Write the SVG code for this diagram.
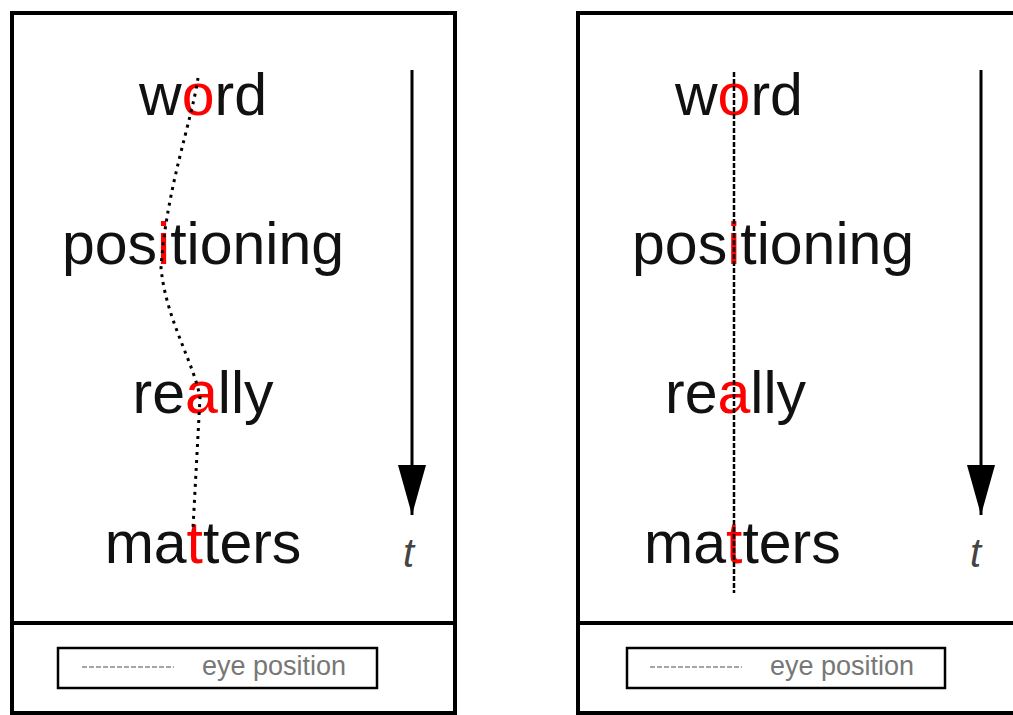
<svg xmlns="http://www.w3.org/2000/svg" width="1013" height="715" viewBox="0 0 1013 715">
  <style>
    .frame { fill: #ffffff; stroke: #000; stroke-width: 4; }
    .divider { stroke: #000; stroke-width: 4; }
    .legend-box { fill: #fff; stroke: #000; stroke-width: 2.5; }
    .legend-line { stroke: #888; stroke-width: 1.5; stroke-dasharray: 5 2; }
    .legend-text { font-family: "Liberation Sans", Arial, sans-serif; font-size: 27px; fill: #777; }
    .word { font-family: "Liberation Sans", Arial, sans-serif; font-size: 59px; fill: #111; }
    .hl { fill: #ff0000; }
    .tlabel { font-family: "Liberation Sans", Arial, sans-serif; font-size: 40px; font-style: italic; fill: #444; }
    .time { stroke: #000; stroke-width: 3; fill: none; }
    .eye-dotted { fill: none; stroke: #000; stroke-width: 3; stroke-dasharray: 3 5; }
    .eye-dashed { fill: none; stroke: #000; stroke-width: 2.5; stroke-dasharray: 5 2; }
  </style>
  <defs>
    <marker id="arrow" viewBox="0 0 50 28" refX="50" refY="14" markerWidth="50" markerHeight="28" markerUnits="userSpaceOnUse" orient="auto">
      <path d="M0,0 L50,14 L0,28 Z" fill="#000"/>
    </marker>
  </defs>
  <rect width="1013" height="715" fill="#fff"/>

  <!-- Left panel -->
  <g id="panel-left">
    <rect class="frame" x="12" y="13" width="443" height="700"/>
    <line class="divider" x1="12" y1="623" x2="455" y2="623"/>
  </g>
  <g id="legend-left">
    <rect class="legend-box" x="58" y="648" width="319" height="40"/>
    <line class="legend-line" x1="82" y1="667" x2="174" y2="667"/>
    <text class="legend-text" x="202" y="675">eye position</text>
  </g>
  <g id="words-left">
    <text id="w1-left" class="word" x="203" y="115" text-anchor="middle">w<tspan class="hl">o</tspan>rd</text>
    <text id="w2-left" class="word" x="203" y="264" text-anchor="middle">pos<tspan class="hl">i</tspan>tioning</text>
    <text id="w3-left" class="word" x="203" y="413" text-anchor="middle">re<tspan class="hl">a</tspan>lly</text>
    <text id="w4-left" class="word" x="203" y="563" text-anchor="middle">ma<tspan class="hl">t</tspan>ters</text>
    <text id="t-left" class="tlabel" x="403" y="567">t</text>
  </g>

  <!-- Right panel -->
  <g id="panel-right">
    <rect class="frame" x="578" y="13" width="443" height="700"/>
    <line class="divider" x1="578" y1="623" x2="1021" y2="623"/>
  </g>
  <g id="legend-right">
    <rect class="legend-box" x="627" y="648" width="318" height="40"/>
    <line class="legend-line" x1="650" y1="667" x2="742" y2="667"/>
    <text class="legend-text" x="770" y="675">eye position</text>
  </g>
  <g id="words-right">
    <text id="w1-right" class="word" x="675" y="115">w<tspan class="hl">o</tspan>rd</text>
    <text id="w2-right" class="word" x="632" y="264">pos<tspan class="hl">i</tspan>tioning</text>
    <text id="w3-right" class="word" x="665" y="413">re<tspan class="hl">a</tspan>lly</text>
    <text id="w4-right" class="word" x="644" y="563">ma<tspan class="hl">t</tspan>ters</text>
    <text id="t-right" class="tlabel" x="970" y="567">t</text>
  </g>

  <!-- Connectors -->
  <g id="connectors">
    <path class="eye-dotted" d="M198,78 C192,120 166,190 161,268 C166,320 195,365 200,398 L193,528"/>
    <line class="eye-dashed" x1="734" y1="72" x2="734" y2="593"/>
    <line class="time" x1="412" y1="70" x2="412" y2="515" marker-end="url(#arrow)"/>
    <line class="time" x1="981" y1="70" x2="981" y2="515" marker-end="url(#arrow)"/>
  </g>
</svg>
